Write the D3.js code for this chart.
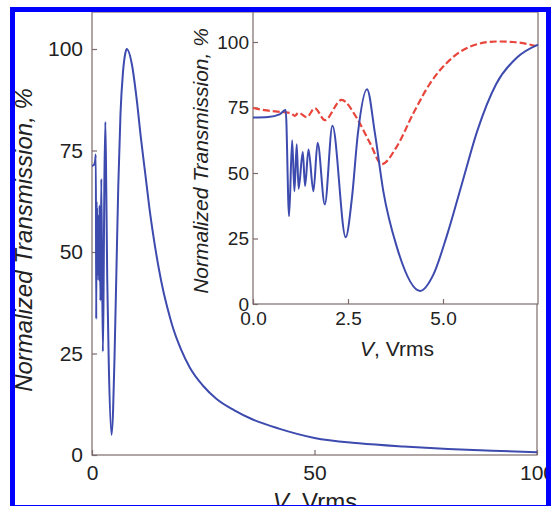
<!DOCTYPE html>
<html>
<head>
<meta charset="utf-8">
<script src="https://cdn.jsdelivr.net/npm/d3@7"></script>
<style>
	body{margin:0;background:#fff;}
	svg{display:block;}
	text{font-family:"Liberation Sans",Arial,sans-serif;fill:#222;}
</style>
</head>
<body>
<div id="chart"></div>
<script>
// low voltage part, shared by main plot and inset (V in Vrms, T in %)
const blueV = [0, 0.4, 0.7, 0.86, 0.95, 1.03, 1.09, 1.15, 1.2, 1.31, 1.37, 1.46, 1.59, 1.7, 1.89, 2.09, 2.44, 2.6, 2.76, 3.0, 3.21, 3.43, 3.78, 4.4, 4.74, 5.1, 5.5, 5.9, 6.4, 6.94, 7.5];
const blueT = [71.2, 71.4, 72.4, 74, 33.5, 62.5, 43, 61, 44, 58, 45, 59, 43, 61.5, 38, 68, 25.5, 40, 65, 82, 65, 43, 22, 5, 11, 26, 46, 66, 84, 94, 99];
// high voltage tail, main plot only
const decayV = [7.8, 9, 10, 11, 12, 13, 14, 15, 16, 17, 18, 20, 22, 25, 28, 32, 36, 42, 50, 60, 70, 80, 90, 100];
const decayT = [100, 96, 88, 78, 69, 60, 52.5, 46, 40.5, 36, 32, 26, 21.5, 17, 13.8, 11, 8.8, 6.5, 4.2, 2.9, 2.1, 1.5, 1.05, 0.7];
// red dashed curve, inset only
const redV = [0, 0.3, 0.8, 1.0, 1.1, 1.2, 1.41, 1.63, 1.89, 2.33, 2.73, 3.08, 3.39, 3.78, 4.22, 4.66, 5.09, 5.71, 6.41, 6.85, 7.5];
const redT = [74.8, 74, 73.2, 72.8, 71.8, 73, 71.3, 74.7, 70.2, 77.9, 71, 61.4, 53.4, 60, 72.8, 84.2, 91.9, 98.2, 100.2, 100, 98.3];

const mainXTicks = [0, 50, 100];
const mainYTicks = [0, 25, 50, 75, 100];
const insetXTicks = [0, 2.5, 5.0];
const insetYTicks = [0, 25, 50, 75, 100];

const _W = 551, _H = 506;
const axisColor = '#7d6b6b', blue = '#3d4aae', red = '#e8453c';

const _svg = d3.select('#chart').append('svg').attr('width',_W).attr('height',_H);

const lowPts = blueV.map((v,i)=>({v:v, t:blueT[i]}));
const tailPts = decayV.map((v,i)=>({v:v, t:decayT[i]}));
const redPts = redV.map((v,i)=>({v:v, t:redT[i]}));

// ---- main plot
const _x = d3.scaleLinear().domain([0,100]).range([92,537]),
	_y = d3.scaleLinear().domain([0,100]).range([455,49]);

_svg.append('rect')
	.attr('x',92).attr('y',12)
	.attr('width',537-92).attr('height',455-12)
	.style('fill','none').style('stroke',axisColor).style('stroke-width',1.2);

const gx = _svg.append('g').attr('transform','translate(0,455)')
	.call(d3.axisBottom(_x).tickValues(mainXTicks).tickFormat(d3.format('d')).tickSize(-5).tickPadding(10).tickSizeOuter(0));
const gy = _svg.append('g').attr('transform','translate(92,0)')
	.call(d3.axisLeft(_y).tickValues(mainYTicks).tickSize(-5).tickPadding(9).tickSizeOuter(0));
[gx,gy].forEach(g=>{
	g.select('.domain').remove();
	g.selectAll('line').style('stroke',axisColor).style('stroke-width',1.2);
	g.selectAll('text').style('font-size','21px').style('fill','#222').style('font-family','"Liberation Sans",Arial,sans-serif');
});

const line = d3.line().x(d=>_x(d.v)).y(d=>_y(d.t)).curve(d3.curveMonotoneX);
_svg.append('path')
	.datum(lowPts.concat(tailPts))
	.attr('d',line)
	.style('fill','none').style('stroke',blue).style('stroke-width',2);

_svg.append('text')
	.attr('transform','translate(32,240) rotate(-90)')
	.attr('text-anchor','middle')
	.style('font-size','24px').style('font-style','italic')
	.text('Normalized Transmission, %');

const xl = _svg.append('text')
	.attr('x',315).attr('y',510)
	.attr('text-anchor','middle')
	.style('font-size','24px');
xl.append('tspan').style('font-style','italic').text('V');
xl.append('tspan').text(', Vrms');

// ---- inset
const _ix = d3.scaleLinear().domain([0,7.5]).range([253,538]),
	_iy = d3.scaleLinear().domain([0,100]).range([304,42]);

_svg.append('rect')
	.attr('x',253).attr('y',12)
	.attr('width',538-253).attr('height',304-12)
	.style('fill','#fff').style('stroke',axisColor).style('stroke-width',1.2);

const igx = _svg.append('g').attr('transform','translate(0,304)')
	.call(d3.axisBottom(_ix).tickValues(insetXTicks).tickFormat(d3.format('.1f')).tickSize(-5).tickPadding(8).tickSizeOuter(0));
const igy = _svg.append('g').attr('transform','translate(253,0)')
	.call(d3.axisLeft(_iy).tickValues(insetYTicks).tickSize(-5).tickPadding(4).tickSizeOuter(0));
[igx,igy].forEach(g=>{
	g.select('.domain').remove();
	g.selectAll('line').style('stroke',axisColor).style('stroke-width',1.2);
	g.selectAll('text').style('font-size','19px').style('fill','#222').style('font-family','"Liberation Sans",Arial,sans-serif');
});

const iline = d3.line().x(d=>_ix(d.v)).y(d=>_iy(d.t)).curve(d3.curveMonotoneX);
_svg.append('path')
	.datum(redPts)
	.attr('d',iline)
	.style('fill','none').style('stroke',red).style('stroke-width',2.2)
	.style('stroke-dasharray','7,3');
_svg.append('path')
	.datum(lowPts)
	.attr('d',iline)
	.style('fill','none').style('stroke',blue).style('stroke-width',2);

_svg.append('text')
	.attr('transform','translate(208,161) rotate(-90)')
	.attr('text-anchor','middle')
	.style('font-size','21px').style('font-style','italic')
	.text('Normalized Transmission, %');

const ixl = _svg.append('text')
	.attr('x',397).attr('y',356)
	.attr('text-anchor','middle')
	.style('font-size','21px');
ixl.append('tspan').style('font-style','italic').text('V');
ixl.append('tspan').text(', Vrms');

// ---- blue frame round the picture
_svg.append('rect')
	.attr('x',12.5).attr('y',9.5)
	.attr('width',536).attr('height',498)
	.style('fill','none').style('stroke','#0000ff').style('stroke-width',5);
</script>
</body>
</html>
